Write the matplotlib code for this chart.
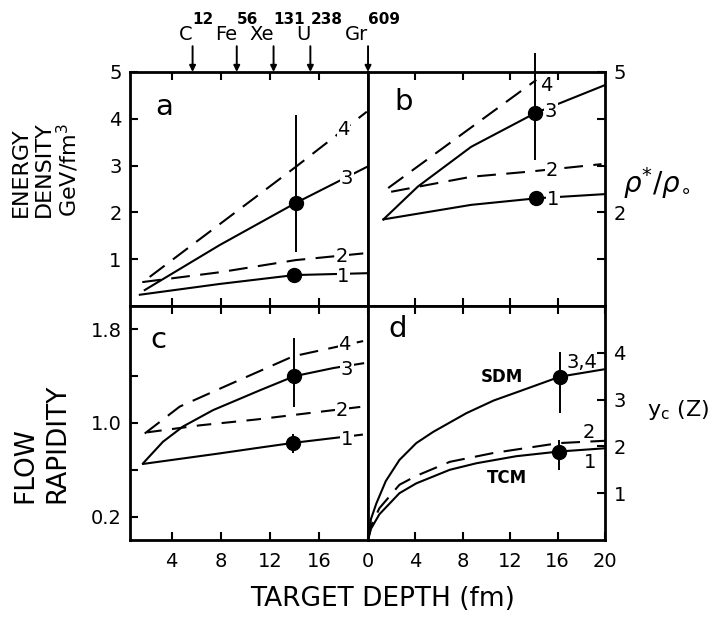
import matplotlib
matplotlib.use("Agg")
import matplotlib.pyplot as plt
import matplotlib.transforms as mtransforms

# ---- data ----
# panel a: energy density vs target depth
a1_x = [1.4, 7.9, 14.0, 19.9]
a1_y = [0.24, 0.47, 0.66, 0.70]
a2_x = [1.6, 7.9, 14.1, 19.9]
a2_y = [0.51, 0.72, 0.98, 1.13]
a3_x = [1.8, 7.9, 14.1, 19.9]
a3_y = [0.34, 1.30, 2.20, 2.97]
a4_x = [2.2, 14.1, 19.9]
a4_y = [0.62, 2.97, 4.15]
a_pt_x = [14.0, 14.1]
a_pt_y = [0.66, 2.20]
a_err_lo = [0.10, 1.05]
a_err_hi = [0.10, 1.88]

# panel b: rho*/rho0
b1_x = [1.3, 8.7, 14.2, 20.0]
b1_y = [1.85, 2.16, 2.30, 2.39]
b2_x = [1.95, 8.7, 13.6, 19.7]
b2_y = [2.44, 2.76, 2.87, 3.03]
b3_x = [1.3, 4.2, 8.7, 14.1, 20.0]
b3_y = [1.85, 2.55, 3.40, 4.12, 4.72]
b4_x = [1.7, 14.2]
b4_y = [2.52, 4.83]
b_pt_x = [14.2, 14.1]
b_pt_y = [2.30, 4.12]
b_err_lo = [0.16, 1.00]
b_err_hi = [0.16, 1.28]
b_xerr = [0.55, 0.0]

# panel c: flow rapidity
c1_x = [1.66, 7.9, 11.2, 13.9, 19.5]
c1_y = [0.65, 0.74, 0.79, 0.83, 0.90]
c2_x = [2.0, 6.3, 10.9, 17.2, 19.6]
c2_y = [0.92, 0.98, 1.03, 1.11, 1.14]
c3_x = [1.66, 3.29, 4.92, 7.37, 11.2, 14.0, 17.2, 19.6]
c3_y = [0.655, 0.84, 0.97, 1.11, 1.28, 1.40, 1.47, 1.51]
c4_x = [1.8, 4.65, 8.5, 13.9, 19.6]
c4_y = [0.91, 1.14, 1.32, 1.57, 1.70]
c_pt_x = [13.9, 14.0]
c_pt_y = [0.83, 1.40]
c_err_lo = [0.09, 0.26]
c_err_hi = [0.08, 0.33]

# panel d: y_c(Z)
d_sdm_x = [0, 0.25, 0.7, 1.5, 2.65, 4.07, 5.5, 8.3, 10.6, 12.7, 16.2, 20.0]
d_sdm_y = [0, 0.45, 0.78, 1.26, 1.71, 2.07, 2.31, 2.71, 2.98, 3.17, 3.49, 3.65]
d_2_x = [0, 0.25, 0.96, 2.65, 4.07, 6.9, 10.6, 16.1, 20.0]
d_2_y = [0, 0.30, 0.68, 1.18, 1.37, 1.67, 1.86, 2.07, 2.12]
d_tcm_x = [0, 0.25, 0.96, 2.65, 4.07, 6.9, 9.15, 12.5, 16.1, 20.0]
d_tcm_y = [0, 0.24, 0.55, 1.00, 1.21, 1.50, 1.64, 1.79, 1.89, 1.96]
d_pt_x = [16.2, 16.1]
d_pt_y = [3.49, 1.89]
d_err_lo = [0.78, 0.39]
d_err_hi = [0.53, 0.25]

# target nuclei marked on top axis
targets = ["C", "Fe", "Xe", "U", "Gr"]
target_mass = ["12", "56", "131", "238", "609"]
target_depth = [5.7, 9.3, 12.3, 15.3, 20.0]

DASH = (0, (9, 5))
LW = 1.5

fig = plt.figure(figsize=(7.12, 6.17), dpi=100)
ax_a = fig.add_axes([0.1826, 0.5041, 0.3343, 0.3793])
ax_b = fig.add_axes([0.5169, 0.5041, 0.3329, 0.3793])
ax_c = fig.add_axes([0.1826, 0.1248, 0.3343, 0.3793])
ax_d = fig.add_axes([0.5169, 0.1248, 0.3329, 0.3793])

for ax in (ax_a, ax_b, ax_c, ax_d):
    for sp in ax.spines.values():
        sp.set_linewidth(2)
    ax.tick_params(direction="in", length=6, width=1.5, labelsize=14,
                   top=True, bottom=True, left=False, right=False,
                   labelleft=False, labelbottom=False)


def lab(ax, x, y, s, size=14, box=True, **kw):
    bb = dict(facecolor="white", edgecolor="none", pad=0.5) if box else None
    ax.text(x, y, s, ha="center", va="center", fontsize=size, zorder=5,
            bbox=bb, **kw)


def points(ax, x, y, lo, hi, xerr=None):
    ax.errorbar(x, y, yerr=[lo, hi], xerr=xerr, fmt="o", color="k", ms=10,
                elinewidth=1.4, capsize=0, zorder=4, clip_on=False)


# ---- panel a ----
ax_a.set_xlim(0.6, 20)
ax_a.set_ylim(0, 5)
ax_a.plot(a1_x, a1_y, "k-", lw=LW)
ax_a.plot(a2_x, a2_y, "k", ls=DASH, lw=LW)
ax_a.plot(a3_x, a3_y, "k-", lw=LW)
ax_a.plot(a4_x, a4_y, "k", ls=DASH, lw=LW)
points(ax_a, a_pt_x, a_pt_y, a_err_lo, a_err_hi)
ax_a.set_xticks([4, 8, 12, 16])
ax_a.set_yticks([1, 2, 3, 4, 5])
ax_a.tick_params(left=True, labelleft=True, pad=6)
lab(ax_a, 18.0, 3.76, "4")
lab(ax_a, 18.3, 2.73, "3")
lab(ax_a, 17.9, 1.05, "2")
lab(ax_a, 18.0, 0.62, "1")
ax_a.text(3.4, 4.25, "a", fontsize=21, ha="center", va="center")

# top arrows / target names
trans = mtransforms.blended_transform_factory(ax_a.transData, ax_a.transAxes)
for name, mass, xd in zip(targets, target_mass, target_depth):
    ax_a.annotate("", xy=(xd, 1.0), xytext=(xd, 1.11), xycoords=trans,
                  textcoords=trans,
                  arrowprops=dict(arrowstyle="-|>", lw=1.4, color="k",
                                  mutation_scale=9, shrinkA=0, shrinkB=0))
    ax_a.text(xd, 1.135, name, transform=trans, ha="right", va="baseline",
              fontsize=14)
    ax_a.text(xd, 1.205, mass, transform=trans, ha="left", va="baseline",
              fontsize=11, fontweight="bold")

# ---- panel b ----
ax_b.set_xlim(0, 20)
ax_b.set_ylim(0, 5)
ax_b.plot(b1_x, b1_y, "k-", lw=LW)
ax_b.plot(b2_x, b2_y, "k", ls=DASH, lw=LW)
ax_b.plot(b3_x, b3_y, "k-", lw=LW)
ax_b.plot(b4_x, b4_y, "k", ls=DASH, lw=LW)
points(ax_b, b_pt_x, b_pt_y, b_err_lo, b_err_hi, xerr=b_xerr)
ax_b.set_xticks([4, 8, 12, 16])
ax_b.set_yticks([1, 2, 3, 4, 5])
ax_b.set_yticklabels(["", "2", "", "", "5"])
ax_b.tick_params(right=True, labelright=True, pad=6)
lab(ax_b, 15.0, 4.72, "4", box=False)
lab(ax_b, 15.4, 4.15, "3")
lab(ax_b, 15.5, 2.90, "2")
lab(ax_b, 15.6, 2.28, "1")
ax_b.text(3.0, 4.35, "b", fontsize=21, ha="center", va="center")

# ---- panel c ----
ax_c.set_xlim(0.6, 20)
ax_c.set_ylim(0, 2.0)
ax_c.plot(c1_x, c1_y, "k-", lw=LW)
ax_c.plot(c2_x, c2_y, "k", ls=(0, (7, 5)), lw=LW)
ax_c.plot(c3_x, c3_y, "k-", lw=LW)
ax_c.plot(c4_x, c4_y, "k", ls=DASH, lw=LW)
points(ax_c, c_pt_x, c_pt_y, c_err_lo, c_err_hi)
ax_c.set_xticks([4, 8, 12, 16])
ax_c.set_yticks([0.2, 0.6, 1.0, 1.4, 1.8])
ax_c.set_yticklabels(["0.2", "", "1.0", "", "1.8"])
ax_c.tick_params(left=True, labelleft=True, labelbottom=True, pad=6)
ax_c.tick_params(axis="x", pad=9)
lab(ax_c, 18.1, 1.67, "4")
lab(ax_c, 18.3, 1.46, "3")
lab(ax_c, 17.9, 1.11, "2")
lab(ax_c, 18.3, 0.86, "1")
ax_c.text(2.9, 1.71, "c", fontsize=21, ha="center", va="center")

# ---- panel d ----
ax_d.set_xlim(0, 20)
ax_d.set_ylim(0, 5)
ax_d.plot(d_sdm_x, d_sdm_y, "k-", lw=LW)
ax_d.plot(d_2_x, d_2_y, "k", ls=DASH, lw=LW)
ax_d.plot(d_tcm_x, d_tcm_y, "k-", lw=LW)
points(ax_d, d_pt_x, d_pt_y, d_err_lo, d_err_hi)
ax_d.set_xticks([0, 4, 8, 12, 16, 20])
ax_d.set_yticks([1, 2, 3, 4])
ax_d.tick_params(right=True, labelright=True, labelbottom=True, pad=6)
ax_d.tick_params(axis="x", pad=9)
lab(ax_d, 11.3, 3.48, "SDM", size=12, box=False, fontweight="bold")
lab(ax_d, 11.7, 1.32, "TCM", size=12, box=False, fontweight="bold")
lab(ax_d, 18.05, 3.80, "3,4", box=False)
lab(ax_d, 18.6, 2.30, "2", box=False)
lab(ax_d, 18.7, 1.66, "1", box=False)
ax_d.text(2.5, 4.5, "d", fontsize=21, ha="center", va="center")

# ---- axis titles ----
fig.text(0.030, 0.648, "ENERGY", rotation=90, ha="center", va="bottom", fontsize=16)
fig.text(0.061, 0.648, "DENSITY", rotation=90, ha="center", va="bottom", fontsize=16)
fig.text(0.095, 0.648, "GeV/fm$^3$", rotation=90, ha="center", va="bottom", fontsize=16)
fig.text(0.036, 0.185, "FLOW", rotation=90, ha="center", va="bottom", fontsize=19)
fig.text(0.080, 0.185, "RAPIDITY", rotation=90, ha="center", va="bottom", fontsize=19)
fig.text(0.538, 0.029, "TARGET DEPTH (fm)", ha="center", va="center", fontsize=19)
fig.text(0.922, 0.703, r"$\rho^{*}/\rho_{\circ}$", ha="center", va="center", fontsize=20)
fig.text(0.952, 0.335, r"$\mathregular{y_c}$ (Z)", ha="center", va="center", fontsize=16)

fig.savefig("out.png", dpi=100)
